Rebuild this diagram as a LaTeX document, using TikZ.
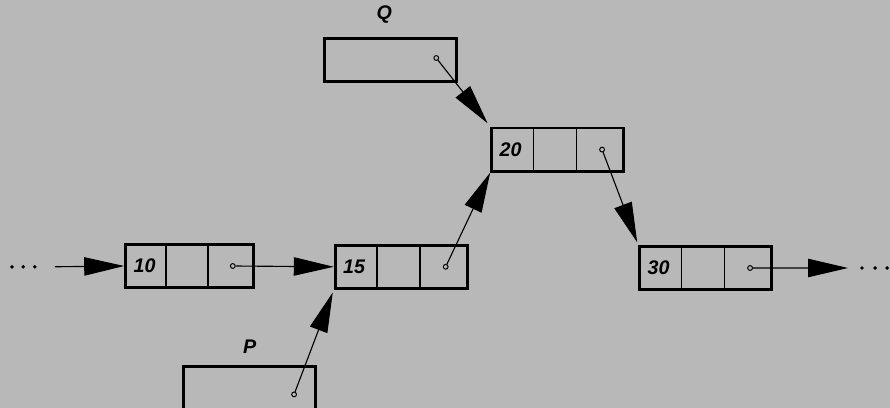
\documentclass[tikz,border=0pt]{standalone}
\usepackage{fontspec}
\newfontfamily\fontetichetta{Liberation Sans}
\usetikzlibrary{arrows.meta, positioning, calc}
\definecolor{carta}{RGB}{184,184,184}

\begin{document}
\begin{tikzpicture}[
  nodo/.style={draw=black, line width=2pt, text width=2.9cm, inner xsep=0.2cm,
               minimum height=1.08cm, align=left,
               font=\fontetichetta\bfseries\itshape\fontsize{14}{16}\selectfont},
  etichetta/.style={font=\fontetichetta\bfseries\itshape\fontsize{14}{16}\selectfont,
                    inner sep=1pt},
  divisorio/.style={draw=black, line width=1pt},
  anello/.style={draw=black, line width=0.7pt},
  puntatore/.style={draw=black, line width=0.8pt,
                    -{Triangle[length=1.0cm, width=0.46cm]}, shorten <=2pt}
]

% ---- sfondo e riquadro fisso ----------------------------------------
\fill[carta] (0,0) rectangle (22.25,10.2);
\useasboundingbox (0,0) rectangle (22.25,10.2);

% ---- nodi della lista -----------------------------------------------
\node[nodo, text width=2.8cm] (n10) at (4.74,3.55) {10};
\node[nodo] (n15) at (10.03,3.53) {15};
\node[nodo] (n20) at (13.94,6.46) {20};
\node[nodo] (n30) at (17.64,3.50) {30};

% ---- variabili puntatore Q e P ----------------------------------------
\node[nodo] (q) at (9.76,8.70) {};
\node[nodo] (p) at (6.24,0.49) {};
\node[etichetta, above=0.3cm of q, xshift=-0.15cm] (lq) {Q};
\node[etichetta, above=0.25cm of p] (lp) {P};

% ---- divisori dei campi ---------------------------------------------
\foreach \n in {n10,n15,n20,n30}
  \foreach \f in {0.32,0.64}
    \draw[divisorio] ($(\n.north west)!\f!(\n.north east)$)
                  -- ($(\n.south west)!\f!(\n.south east)$);

% ---- campi puntatore: piccoli anelli ----------------------------------
\foreach \n in {n10,n15,n20,n30}
  \coordinate (\n-ptr) at ($(\n.west)!0.83!(\n.east)$);
\coordinate (q-ptr) at ($(q.west)!0.84!(q.east)+(0,0.05)$);
\coordinate (p-ptr) at ($(p.west)!0.83!(p.east)+(0,-0.15)$);
\foreach \n in {n10,n15,n20,n30,q,p}
  \draw[anello] (\n-ptr) circle (0.06);

% ---- puntini di continuazione --------------------------------------
\foreach \x in {0.30,0.58,0.87} \fill[black] (\x,3.53) circle (1.4pt);
\foreach \x in {21.55,21.88,22.18} \fill[black] (\x,3.50) circle (1.4pt);
\coordinate (ingresso) at (1.30,3.53);
\coordinate (uscita) at (21.20,3.50);

% ---- collegamenti ---------------------------------------------------
\draw[puntatore] (ingresso) -- (n10.west);
\draw[puntatore] (n10-ptr) -- (n15.west);
\draw[puntatore] (n15-ptr) -- (n20.south west);
\draw[puntatore, shorten >=3pt] (q-ptr) -- (n20.north west);
\draw[puntatore, shorten >=2pt] (n20-ptr) -- (n30.north west);
\draw[puntatore] (n30-ptr) -- (uscita);
\draw[puntatore, shorten >=2pt] (p-ptr) -- (n15.south west);

\end{tikzpicture}
\end{document}
